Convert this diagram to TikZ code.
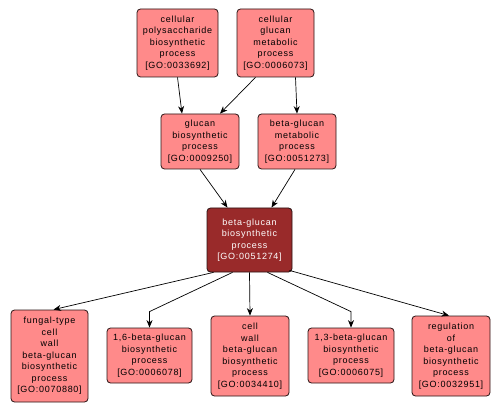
\documentclass[tikz,border=0pt]{standalone}
\usepackage{fontspec}
\setmainfont{Liberation Sans}[LetterSpace=8]
\usepackage{tikz}
\usetikzlibrary{arrows.meta}
\definecolor{termfill}{RGB}{255,138,138}
\definecolor{mainfill}{RGB}{153,42,42}
\definecolor{termline}{RGB}{40,20,20}
\begin{document}
\begin{tikzpicture}[x=1pt,y=-1pt,>={Stealth[length=7.5pt,width=6pt]},
 every node/.style={font=\fontsize{9}{11.5}\selectfont},
 term/.style={draw=termline,fill=termfill,rounded corners=3.5pt,align=center,inner sep=0pt,line width=0.8pt},
 mainterm/.style={term,fill=mainfill,text=white},
 edge/.style={->,line width=0.7pt}]
\useasboundingbox (0,0) rectangle (502,411);
\node[term,minimum width=81pt,minimum height=68pt] (polysac) at (177.5,43) {cellular\\polysaccharide\\biosynthetic\\process\\{[GO:0033692]}};
\node[term,minimum width=77pt,minimum height=68pt] (glumet) at (275.5,43) {cellular\\glucan\\metabolic\\process\\{[GO:0006073]}};
\node[term,minimum width=78pt,minimum height=55pt] (glubio) at (200,141.5) {glucan\\biosynthetic\\process\\{[GO:0009250]}};
\node[term,minimum width=78pt,minimum height=55pt] (bgmet) at (297,141.5) {beta-glucan\\metabolic\\process\\{[GO:0051273]}};
\node[mainterm,minimum width=85pt,minimum height=64pt] (bgbio) at (249.5,240) {beta-glucan\\biosynthetic\\process\\{[GO:0051274]}};
\node[term,minimum width=77pt,minimum height=92pt] (fungal) at (49.5,356) {fungal-type\\cell\\wall\\beta-glucan\\biosynthetic\\process\\{[GO:0070880]}};
\node[term,minimum width=85pt,minimum height=55pt] (bsixteen) at (149.5,355.5) {1,6-beta-glucan\\biosynthetic\\process\\{[GO:0006078]}};
\node[term,minimum width=78pt,minimum height=80pt] (cellwall) at (250,356) {cell\\wall\\beta-glucan\\biosynthetic\\process\\{[GO:0034410]}};
\node[term,minimum width=86pt,minimum height=55pt] (bthirteen) at (351,355.5) {1,3-beta-glucan\\biosynthetic\\process\\{[GO:0006075]}};
\node[term,minimum width=78pt,minimum height=80pt] (regul) at (451,356) {regulation\\of\\beta-glucan\\biosynthetic\\process\\{[GO:0032951]}};
\draw[edge] (polysac.south) -- ([xshift=-18pt]glubio.north);
\draw[edge] ([xshift=-20pt]glumet.south) -- ([xshift=20pt]glubio.north);
\draw[edge] ([xshift=20pt]glumet.south) -- (bgmet.north);
\draw[edge] (glubio.south) -- ([xshift=-22pt]bgbio.north);
\draw[edge] ([xshift=-2pt]bgmet.south) -- ([xshift=22pt]bgbio.north);
\draw[edge] ([xshift=-36pt]bgbio.south) -- ([xshift=4pt]fungal.north);
\draw[edge] ([xshift=-17pt]bgbio.south) -- ([yshift=16pt]bsixteen.north) -- (bsixteen.north);
\draw[edge] (bgbio.south) -- (cellwall.north);
\draw[edge] ([xshift=18pt]bgbio.south) -- ([yshift=16pt]bthirteen.north) -- (bthirteen.north);
\draw[edge] ([xshift=40pt,yshift=2pt]bgbio.south) -- ([xshift=-2pt]regul.north);
\end{tikzpicture}
\end{document}
